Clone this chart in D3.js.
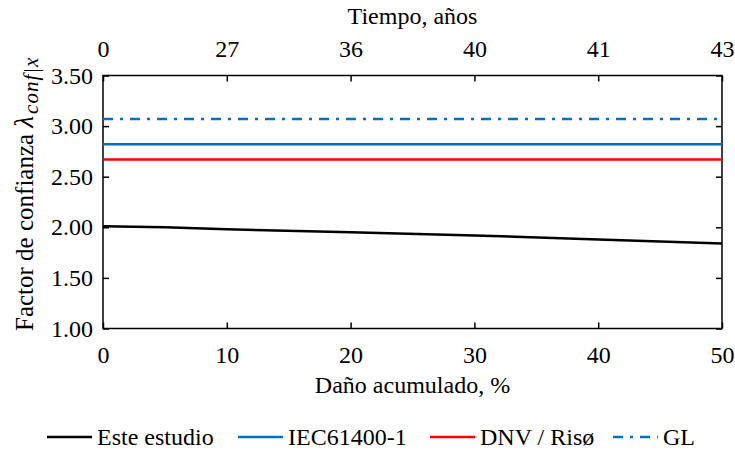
<!DOCTYPE html>
<html>
<head>
<meta charset="utf-8">
<script src="https://cdn.jsdelivr.net/npm/d3@7"></script>
<style>
  html, body { margin: 0; padding: 0; background: #fff; }
</style>
</head>
<body>
<svg id="chart" width="735" height="459"></svg>
<script>
// Accumulated damage (%) and the confidence factor estimated in this study
const damage = [0, 5, 10, 20, 30, 40, 50];
const factorStudy = [2.01, 2.00, 1.98, 1.95, 1.92, 1.88, 1.84];

// Constant factors prescribed by the standards
const factorIEC = 2.82;
const factorDNV = 2.67;
const factorGL = 3.07;

// Axis ticks
const xTicks = [0, 10, 20, 30, 40, 50];
const yTicks = [1.00, 1.50, 2.00, 2.50, 3.00, 3.50];
const timeLabels = ["0", "27", "36", "40", "41", "43"]; // years, aligned with xTicks

const legendLabels = ["Este estudio", "IEC61400-1", "DNV / Risø", "GL"];

const blue = "#0070C0";
const red = "#FF0000";
const serif = "'Liberation Serif', 'Times New Roman', 'DejaVu Serif', serif";

const svg = d3.select("#chart").attr("font-family", serif);
const plot = { left: 103, right: 722, top: 75.5, bottom: 328.5 };

const x = d3.scaleLinear().domain([0, 50]).range([plot.left, plot.right]);
const y = d3.scaleLinear().domain([1, 3.5]).range([plot.bottom, plot.top]);

const fontSize = 24;
const tickLen = 6;

// Axes: ticks point inward on all four sides
const axisBottom = d3.axisBottom(x).tickValues(xTicks).tickSize(-tickLen).tickPadding(17)
  .tickFormat(d3.format("d"));
const axisTop = d3.axisTop(x).tickValues(xTicks).tickSize(-tickLen).tickPadding(19)
  .tickFormat((d, i) => timeLabels[i]);
const axisLeft = d3.axisLeft(y).tickValues(yTicks).tickSize(-tickLen).tickPadding(10)
  .tickFormat(d3.format(".2f"));
const axisRight = d3.axisRight(y).tickValues(yTicks).tickSize(-tickLen).tickFormat("");

function styleAxis(g) {
  g.attr("font-family", serif).attr("font-size", fontSize);
  g.select(".domain").remove();
  g.selectAll(".tick line").attr("stroke", "#000").attr("stroke-width", 1.5);
  g.selectAll(".tick text").attr("fill", "#000");
}

svg.append("g").attr("transform", `translate(0,${plot.bottom})`).call(axisBottom).call(styleAxis);
svg.append("g").attr("transform", `translate(0,${plot.top})`).call(axisTop).call(styleAxis);
svg.append("g").attr("transform", `translate(${plot.left},0)`).call(axisLeft).call(styleAxis);
svg.append("g").attr("transform", `translate(${plot.right},0)`).call(axisRight).call(styleAxis);

// Plot frame
svg.append("rect")
  .attr("x", plot.left).attr("y", plot.top)
  .attr("width", plot.right - plot.left).attr("height", plot.bottom - plot.top)
  .attr("fill", "none").attr("stroke", "#000").attr("stroke-width", 1.5);

// Constant standard factors
const standards = [
  { value: factorGL, color: blue, dash: "10,7,3,7" },
  { value: factorIEC, color: blue, dash: null },
  { value: factorDNV, color: red, dash: null }
];
svg.append("g").selectAll("line").data(standards).join("line")
  .attr("x1", x(0)).attr("x2", x(50))
  .attr("y1", d => y(d.value)).attr("y2", d => y(d.value))
  .attr("stroke", d => d.color).attr("stroke-width", 2.5)
  .attr("stroke-dasharray", d => d.dash);

// Factor from this study
const line = d3.line().x(d => x(d[0])).y(d => y(d[1]));
svg.append("path")
  .datum(damage.map((d, i) => [d, factorStudy[i]]))
  .attr("d", line)
  .attr("fill", "none").attr("stroke", "#000").attr("stroke-width", 2.5);

// Axis titles
svg.append("text")
  .attr("x", (plot.left + plot.right) / 2).attr("y", 393)
  .attr("text-anchor", "middle").attr("font-size", fontSize)
  .text("Daño acumulado, %");

svg.append("text")
  .attr("x", (plot.left + plot.right) / 2).attr("y", 24)
  .attr("text-anchor", "middle").attr("font-size", fontSize)
  .text("Tiempo, años");

const yTitle = svg.append("text")
  .attr("transform", `translate(33,331) rotate(-90)`)
  .attr("text-anchor", "start").attr("font-size", 25);
yTitle.append("tspan").text("Factor de confianza ");
yTitle.append("tspan").attr("font-style", "italic").attr("font-size", 27).text("λ");
yTitle.append("tspan").attr("font-style", "italic").attr("font-size", 21)
  .attr("dx", 2).attr("dy", 5).attr("letter-spacing", 1).text("conf|x");

// Legend
const legendItems = [
  { label: legendLabels[0], color: "#000", dash: null, x: 47 },
  { label: legendLabels[1], color: blue, dash: null, x: 238 },
  { label: legendLabels[2], color: red, dash: null, x: 430 },
  { label: legendLabels[3], color: blue, dash: "10,7,3,7", x: 613 }
];
const legend = svg.append("g").attr("transform", "translate(0,437)");
const li = legend.selectAll("g").data(legendItems).join("g")
  .attr("transform", d => `translate(${d.x},0)`);
li.append("line").attr("x1", 0).attr("x2", 45).attr("y1", 0).attr("y2", 0)
  .attr("stroke", d => d.color).attr("stroke-width", 2.5)
  .attr("stroke-dasharray", d => d.dash);
li.append("text").attr("x", 50).attr("y", 8).attr("font-size", fontSize)
  .text(d => d.label);
</script>
</body>
</html>
